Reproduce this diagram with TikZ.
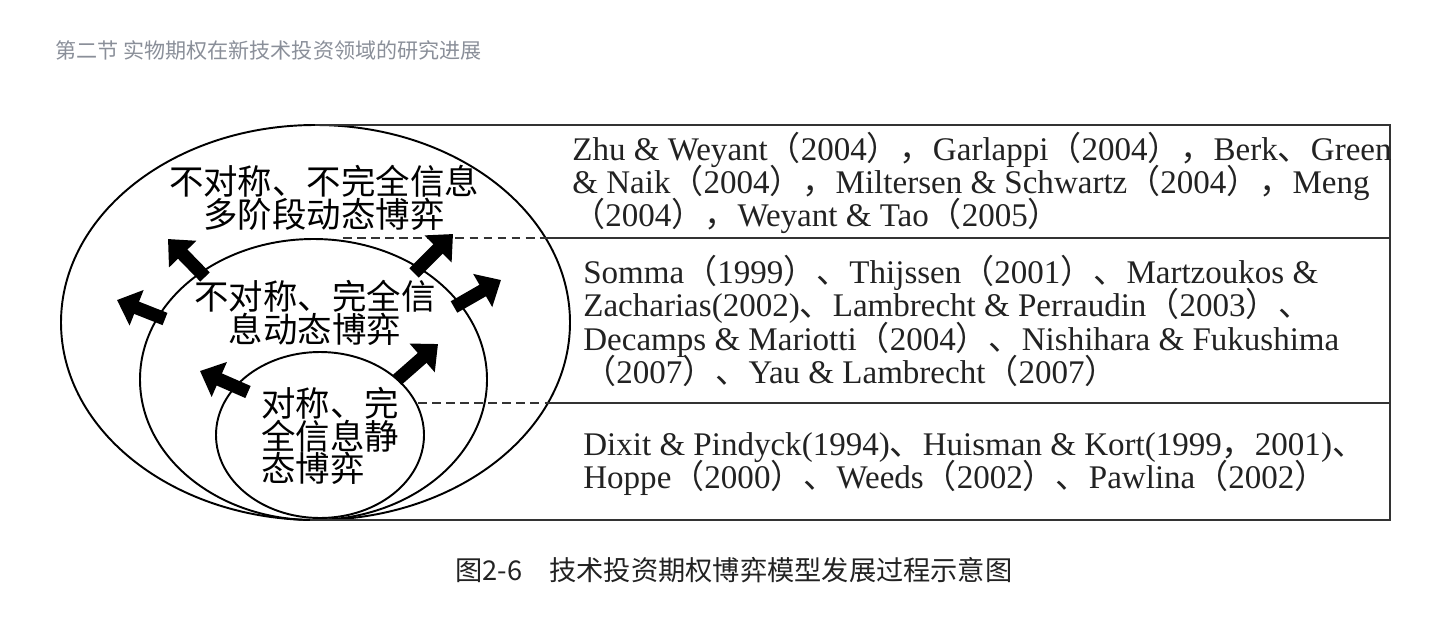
\documentclass[tikz,border=0pt]{standalone}
\usepackage{fontspec}
\setmainfont{Liberation Serif}
\newfontfamily\cjk{Noto Sans CJK SC}
\usepackage{tikz}
\usetikzlibrary{arrows.meta}
\definecolor{titelgrau}{HTML}{8A8F99}
\definecolor{textgrau}{HTML}{222222}
% vollbreite Satzzeichen
\newcommand{\zkl}{{\cjk （}}
\newcommand{\zkr}{{\cjk ）}}
\newcommand{\zdun}{{\cjk 、}}
\newcommand{\zdou}{{\cjk ，}}
\newcommand{\engzeilen}{\lineskiplimit-20pt\lineskip0pt\relax}

\begin{document}
\begin{tikzpicture}[x=0.02cm, y=-0.02cm,
		kreis/.style={draw=black, line width=1.1pt},
		linie/.style={draw=black!80, line width=1.1pt},
		strich/.style={draw=black!80, line width=1pt, dash pattern=on 5pt off 3pt},
		pfeil/.style={line width=7.5pt, -{Triangle[length=12pt,width=21pt]}}, %Blockpfeile
		spiel/.style={font=\cjk\fontsize{19.6}{18.5}\selectfont, inner sep=0pt},
		quelle/.style={font=\fontsize{18.8}{18.9}\selectfont\engzeilen, align=left, anchor=west, inner sep=0pt, text=textgrau}]
	\useasboundingbox (0,0) rectangle (1442,619);
	% Ellipsen
	\draw[kreis] (315.5,322.5) ellipse (254.5 and 197.5);
	\draw[kreis] (313.5,379.5) ellipse (173.5 and 140.5);
	\draw[kreis] (320,435) ellipse (104 and 83);
	% Tabelle
	\draw[linie] (315,125) -- (1390,125) -- (1390,520) -- (310,520);
	\draw[linie] (545,238) -- (1390,238);
	\draw[linie] (548,403) -- (1390,403);
	\draw[strich] (343,238) -- (545,238);
	\draw[strich] (418,403) -- (548,403);
	% Pfeile nach aussen
	\draw[pfeil] (205,277) -- (168,239);
	\draw[pfeil] (165,319) -- (117,300);
	\draw[pfeil] (414,273) -- (453,234);
	\draw[pfeil] (454,307) -- (501,280);
	\draw[pfeil] (397,380) -- (438,344);
	\draw[pfeil] (248,392) -- (200,371);
	% Beschriftung
	\node[spiel, align=center] (aussen) at (324,198) {不对称、不完全信息\\多阶段动态博弈};
	\node[spiel, align=center] (mitte) at (315,313) {不对称、完全信\\息动态博弈};
	\node[spiel, align=left, anchor=west] (innen) at (261,436) {对称、完\\全信息静\\态博弈};
	\node[quelle] (zeile1) at (572,183) {Zhu \& Weyant\zkl2004\zkr\zdou Garlappi\zkl2004\zkr\zdou Berk\zdun Green\\
		\& Naik\zkl2004\zkr\zdou Miltersen \& Schwartz\zkl2004\zkr\zdou Meng\\
		\zkl2004\zkr\zdou Weyant \& Tao\zkl2005\zkr};
	\node[quelle] (zeile2) at (583,321) {Somma\zkl1999\zkr\zdun Thijssen\zkl2001\zkr\zdun Martzoukos \&\\
		Zacharias(2002)\zdun Lambrecht \& Perraudin\zkl2003\zkr\zdun\\
		Decamps \& Mariotti\zkl2004\zkr\zdun Nishihara \& Fukushima\\
		\zkl2007\zkr\zdun Yau \& Lambrecht\zkl2007\zkr};
	\node[quelle] (zeile3) at (583,464) {Dixit \& Pindyck(1994)\zdun Huisman \& Kort(1999\zdou 2001)\zdun\\
		Hoppe\zkl2000\zkr\zdun Weeds\zkl2002\zkr\zdun Pawlina\zkl2002\zkr};
	\node[anchor=west, inner sep=0pt, text=titelgrau, font=\cjk\fontsize{12}{14}\selectfont] (titel) at (55,50) {第二节 实物期权在新技术投资领域的研究进展};
	\node[anchor=west, inner sep=0pt, text=textgrau, font=\cjk\fontsize{15.5}{18}\selectfont] (bild) at (455,570) {图2-6　技术投资期权博弈模型发展过程示意图};
\end{tikzpicture}
\end{document}
